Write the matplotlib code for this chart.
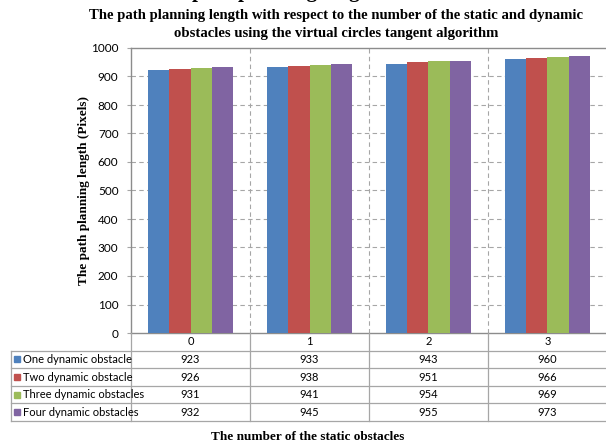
import numpy as np
import matplotlib.pyplot as plt
from matplotlib.patches import Rectangle

categories = ['0', '1', '2', '3']
series = ['One dynamic obstacle', 'Two dynamic obstacle',
          'Three dynamic obstacles', 'Four dynamic obstacles']
one = [923, 933, 943, 960]
two = [926, 938, 951, 966]
three = [931, 941, 954, 969]
four = [932, 945, 955, 973]
values = [one, two, three, four]
colors = ['#4F81BD', '#C0504D', '#9BBB59', '#8064A2']
yticks = list(range(0, 1001, 100))

W, H = 606, 444
serif = 'Liberation Serif'
sans = 'Lato'
grid_c = '#a6a6a6'

fig = plt.figure(figsize=(W / 100, H / 100), dpi=100)

# pixel layout
px_left, px_right = 131, 607
px_top, px_bot = 48, 333
row_h = 17.6
tab_left = 11

ax = fig.add_axes([px_left / W, 1 - px_bot / H, (px_right - px_left) / W, (px_bot - px_top) / H])
n = len(categories)
x = np.arange(n)
bw = 0.18
for i, (vals, col) in enumerate(zip(values, colors)):
    ax.bar(x + (i - 1.5) * bw, vals, bw, color=col, zorder=3, linewidth=0)

ax.set_xlim(-0.5, n - 0.5)
ax.set_ylim(0, 1000)
ax.set_yticks(yticks)
ax.set_yticklabels([str(t) for t in yticks], fontfamily=sans, fontsize=8.5)
ax.tick_params(axis='y', length=3, color=grid_c, pad=6)
ax.set_xticks([])
for t in yticks[1:-1]:
    ax.axhline(t, color=grid_c, lw=0.8, ls=(0, (4, 3)), zorder=1)
for b in np.arange(0.5, n - 0.5, 1):
    ax.axvline(b, color=grid_c, lw=0.8, ls=(0, (4, 3)), zorder=1)
for s in ax.spines.values():
    s.set_color('#8c8c8c')
    s.set_linewidth(1)

ax.set_ylabel('The path planning length (Pixels)', fontfamily=serif, fontweight='bold',
              fontsize=9.5, labelpad=1)

# data table below the plot, drawn in pixel coordinates
tab = fig.add_axes([0, 0, 1, 1], facecolor='none')
tab.set_xlim(0, W)
tab.set_ylim(H, 0)
tab.axis('off')
cw = (px_right - px_left) / n
n_rows = len(series) + 1
tab_bot = px_bot + n_rows * row_h
for k in range(n + 1):
    xb = px_left + k * cw
    tab.plot([xb, xb], [px_bot, tab_bot], color=grid_c, lw=0.9)
tab.plot([tab_left, tab_left], [px_bot + row_h, tab_bot], color=grid_c, lw=0.9)
for r in range(1, n_rows + 1):
    yl = px_bot + r * row_h
    tab.plot([tab_left, W], [yl, yl], color=grid_c, lw=0.9)
for k, c in enumerate(categories):
    tab.text(px_left + (k + 0.5) * cw, px_bot + row_h / 2, c, ha='center', va='center',
             fontfamily=sans, fontsize=8)
for r, (name, vals, col) in enumerate(zip(series, values, colors)):
    yc = px_bot + (r + 1.5) * row_h
    tab.add_patch(Rectangle((14, yc - 3), 6, 6, color=col))
    tab.text(23, yc, name, ha='left', va='center', fontfamily=sans, fontsize=8)
    for k, v in enumerate(vals):
        tab.text(px_left + (k + 0.5) * cw, yc, str(v), ha='center', va='center',
                 fontfamily=sans, fontsize=8)

tab.text(308, 437, 'The number of the static obstacles', ha='center', va='center',
         fontfamily=serif, fontweight='bold', fontsize=9.5)

# titles
tab.text(336, 15, 'The path planning length with respect to the number of the static and dynamic',
         ha='center', va='center', fontfamily=serif, fontweight='bold', fontsize=10.6)
tab.text(336, 33, 'obstacles using the virtual circles tangent algorithm',
         ha='center', va='center', fontfamily=serif, fontweight='bold', fontsize=10.6)
# cropped heading at the very top
tab.text(285, -3.5, 'path planning length', ha='center', va='baseline',
         fontfamily=serif, fontweight='bold', fontsize=15)

fig.savefig('out.png', dpi=100)
